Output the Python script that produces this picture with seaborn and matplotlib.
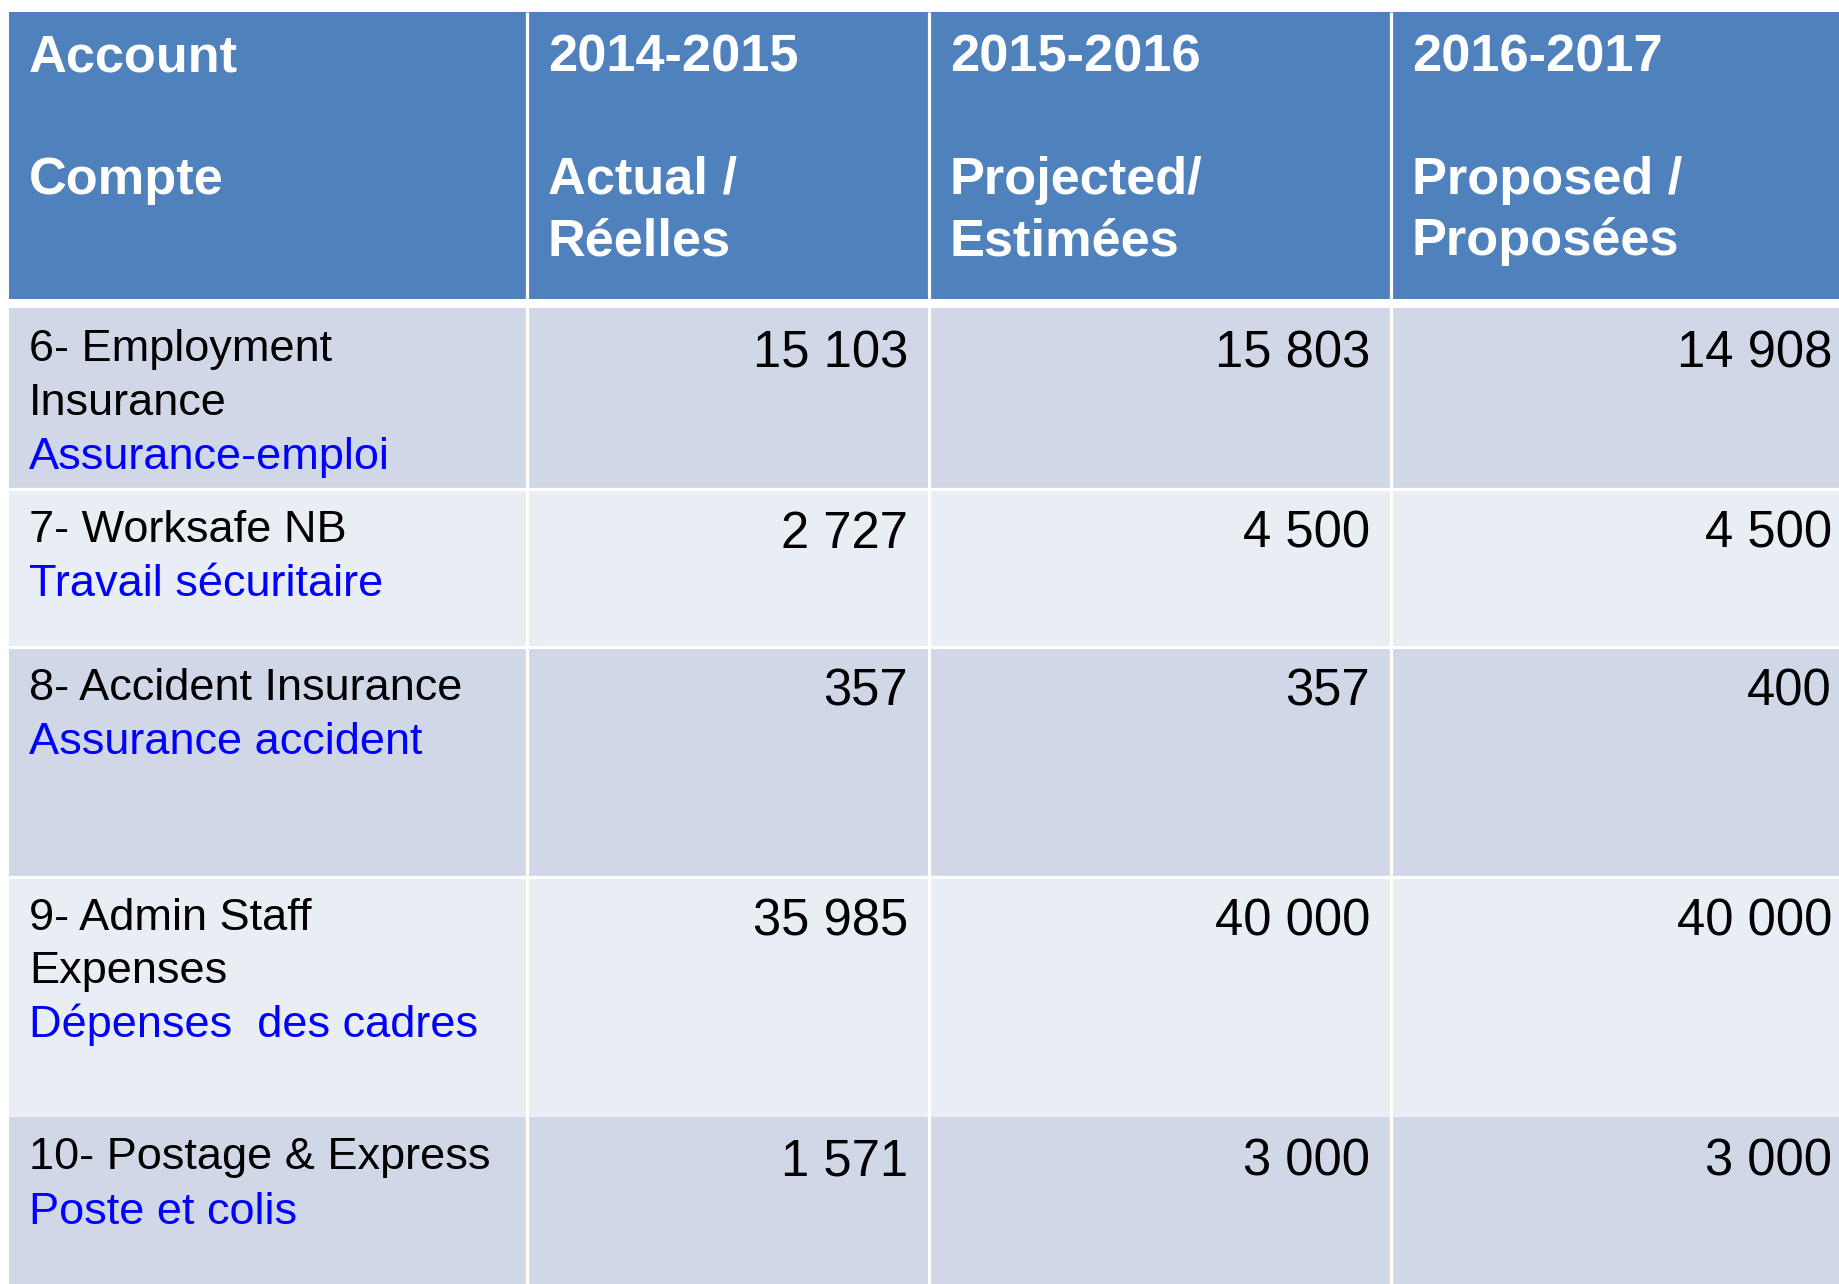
import matplotlib
matplotlib.use("Agg")
import matplotlib.pyplot as plt
from matplotlib.patches import Rectangle
import seaborn as sns

# table content
header_top = ["Account", "2014-2015", "2015-2016", "2016-2017"]
header_sub = [["Compte"], ["Actual /", "Réelles"], ["Projected/", "Estimées"], ["Proposed /", "Proposées"]]

accounts_en = [["6- Employment", "Insurance"], ["7- Worksafe NB"], ["8- Accident Insurance"],
               ["9- Admin Staff", "Expenses"], ["10- Postage & Express"]]
accounts_fr = ["Assurance-emploi", "Travail sécuritaire", "Assurance accident",
               "Dépenses  des cadres", "Poste et colis"]
actual_2014_15 = [15103, 2727, 357, 35985, 1571]
projected_2015_16 = [15803, 4500, 357, 40000, 3000]
proposed_2016_17 = [14908, 4500, 400, 40000, 3000]

sns.set_theme(style="white")
plt.rcParams['font.family'] = ['Liberation Sans', 'DejaVu Sans']

header_blue = "#4F81BD"
band_colors = sns.color_palette(["#D0D8E8", "#E9EDF4"])
fr_blue = "#0000FF"


def fmt(v):
    # French style thousands separator
    return f"{v:,}".replace(",", " ")


# layout in pixel units
W, H = 1839, 1284
col_edges = [9, 527, 929, 1391, 1853]
header_top_y, header_bot_y = 12, 299
row_edges = [308, 488.5, 646.5, 876.5, 1116.5, 1300]
pad = 21
line_h = 54
head_line_h = 61

fig = plt.figure(figsize=(W / 100, H / 100), dpi=100)
ax = fig.add_axes([0, 0, 1, 1])
ax.set_xlim(0, W)
ax.set_ylim(H, 0)
ax.axis("off")

# header background
ax.add_patch(Rectangle((col_edges[0], header_top_y), col_edges[-1] - col_edges[0],
                       header_bot_y - header_top_y, color=header_blue, lw=0))

# banded body rows
for i in range(len(accounts_fr)):
    ax.add_patch(Rectangle((col_edges[0], row_edges[i]), col_edges[-1] - col_edges[0],
                           row_edges[i + 1] - row_edges[i], color=band_colors[i % 2], lw=0))

# white grid lines
ax.vlines(col_edges[1:-1], header_top_y, H + 10, color="white", lw=2.3)
ax.hlines(row_edges[1:-2], col_edges[0], col_edges[-1], color="white", lw=2.3)

# header text
head_base = 72
for j, (top, sub) in enumerate(zip(header_top, header_sub)):
    x = col_edges[j] + (20 if j == 0 else pad)
    ax.text(x, head_base, top, color="white", fontsize=37.7, fontweight="bold", va="baseline", ha="left")
    for k, s in enumerate(sub):
        ax.text(x, head_base + (2 + k) * head_line_h, s, color="white", fontsize=37.7,
                fontweight="bold", va="baseline", ha="left")

# body text
columns = [actual_2014_15, projected_2015_16, proposed_2016_17]
for i in range(len(accounts_fr)):
    base = row_edges[i] + 53
    lines = accounts_en[i]
    for k, s in enumerate(lines):
        ax.text(29, base + k * line_h, s, color="black", fontsize=32.5, va="baseline", ha="left")
    ax.text(29, base + len(lines) * line_h, accounts_fr[i], color=fr_blue, fontsize=32.5,
            va="baseline", ha="left")
    for j, vals in enumerate(columns):
        ax.text(col_edges[j + 2] - pad, base + 6, fmt(vals[i]), color="black", fontsize=36.5,
                va="baseline", ha="right")

fig.savefig("out.png", dpi=100)
